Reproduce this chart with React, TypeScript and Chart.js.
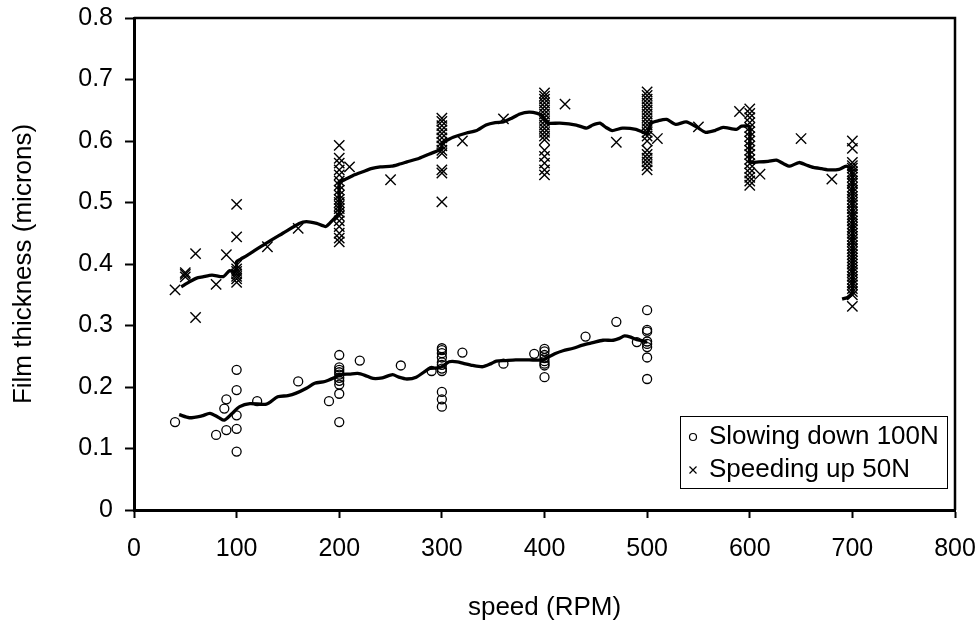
import React, { useEffect, useRef } from "react";
import { Chart, registerables } from "chart.js";

Chart.register(...registerables);

const FONT = "'Liberation Sans', Arial, Helvetica, sans-serif";

const xTickLabels = ["0", "100", "200", "300", "400", "500", "600", "700", "800"];
const yTickLabels = ["0", "0.1", "0.2", "0.3", "0.4", "0.5", "0.6", "0.7", "0.8"];

const seriesNames = ["Slowing down 100N", "Speeding up 50N"];

// Slowing down 100N (circles)
const slowX = [
  40, 80, 88, 90, 90,
  100, 100, 100, 100, 100,
  120, 160, 190,
  200, 200, 200, 200, 200, 200, 200, 200, 200, 200,
  220, 260, 290,
  300, 300, 300, 300, 300, 300, 300, 300, 300, 300, 300,
  320, 360, 390,
  400, 400, 400, 400, 400, 400, 400, 400,
  440, 470, 490,
  500, 500, 500, 500, 500, 500, 500, 500,
];
const slowY = [
  0.143, 0.122, 0.165, 0.18, 0.13,
  0.228, 0.195, 0.154, 0.132, 0.095,
  0.177, 0.209, 0.177,
  0.252, 0.232, 0.228, 0.224, 0.22, 0.215, 0.21, 0.204, 0.189, 0.143,
  0.243, 0.235, 0.226,
  0.263, 0.26, 0.255, 0.248, 0.24, 0.236, 0.23, 0.226, 0.192, 0.18, 0.168,
  0.256, 0.238, 0.254,
  0.262, 0.258, 0.252, 0.247, 0.242, 0.238, 0.235, 0.216,
  0.282, 0.306, 0.273,
  0.325, 0.293, 0.29, 0.274, 0.27, 0.265, 0.248, 0.213,
];

// Speeding up 50N (crosses)
const fastX = [
  40, 50, 50, 50, 60, 60, 80, 90,
  100, 100, 100, 100, 100, 100, 100, 100, 100,
  130, 160,
  200, 200, 200, 200, 200, 200, 200, 200, 200, 200, 200, 200, 200, 200, 200, 200, 200, 200, 200, 200,
  210, 250,
  300, 300, 300, 300, 300, 300, 300, 300, 300, 300, 300, 300, 300,
  320, 360,
  400, 400, 400, 400, 400, 400, 400, 400, 400, 400, 400, 400, 400, 400, 400, 400, 400, 400, 400,
  420, 470,
  500, 500, 500, 500, 500, 500, 500, 500, 500, 500, 500, 500, 500, 500, 500, 500, 500, 500, 500, 500,
  510, 550, 590,
  600, 600, 600, 600, 600, 600, 600, 600, 600, 600, 600, 600, 600, 600, 600, 600, 600, 600,
  610, 650, 680,
  700, 700, 700, 700, 700, 700, 700, 700, 700, 700, 700, 700, 700, 700, 700, 700,
  700, 700, 700, 700, 700, 700, 700, 700, 700, 700, 700, 700, 700, 700, 700, 700,
  700, 700, 700, 700, 700, 700, 700, 700, 700, 700, 700, 700, 700, 700, 700,
];
const fastY = [
  0.358, 0.386, 0.383, 0.379, 0.417, 0.313, 0.367, 0.415,
  0.497, 0.444, 0.398, 0.392, 0.388, 0.384, 0.38, 0.376, 0.37,
  0.428, 0.458,
  0.593, 0.572, 0.564, 0.553, 0.545, 0.535, 0.528, 0.52, 0.512, 0.505, 0.5, 0.495, 0.49, 0.484, 0.478, 0.47, 0.461, 0.45, 0.442, 0.436,
  0.558, 0.537,
  0.637, 0.632, 0.625, 0.618, 0.612, 0.605, 0.598, 0.592, 0.585, 0.58, 0.553, 0.548, 0.501,
  0.6, 0.636,
  0.678, 0.673, 0.668, 0.662, 0.656, 0.65, 0.644, 0.638, 0.632, 0.626, 0.62, 0.614, 0.608, 0.602, 0.585, 0.575, 0.564, 0.553, 0.545,
  0.66, 0.598,
  0.68, 0.674, 0.668, 0.662, 0.656, 0.65, 0.644, 0.638, 0.632, 0.626, 0.62, 0.614, 0.608, 0.6, 0.585, 0.578, 0.572, 0.566, 0.56, 0.553,
  0.604, 0.623, 0.648,
  0.652, 0.645, 0.638, 0.63, 0.622, 0.615, 0.607, 0.6, 0.592, 0.585, 0.578, 0.57, 0.563, 0.555, 0.548, 0.541, 0.535, 0.528,
  0.546, 0.604, 0.538,
  0.6, 0.588, 0.565, 0.56, 0.556, 0.55, 0.546, 0.541, 0.535, 0.531, 0.525, 0.52, 0.516, 0.51, 0.505, 0.5,
  0.496, 0.49, 0.485, 0.48, 0.476, 0.47, 0.465, 0.46, 0.456, 0.45, 0.445, 0.44, 0.436, 0.43, 0.425, 0.42,
  0.415, 0.41, 0.405, 0.4, 0.395, 0.39, 0.386, 0.38, 0.375, 0.37, 0.366, 0.36, 0.355, 0.35, 0.331,
];

// Moving-average trend line, slowing down 100N
const slowTrendX = [
  44, 54, 66, 74, 82, 88, 95, 103, 113, 129, 140, 150, 158, 168, 176, 186, 195, 201, 210, 218,
  225, 233, 242, 252, 258, 266, 275, 288, 296, 301, 307, 315, 321, 330, 340, 348, 353, 362, 372, 385,
  398, 402, 410, 418, 428, 437, 447, 457, 467, 473, 478, 484, 490, 496, 500,
];
const slowTrendY = [
  0.155, 0.15, 0.153, 0.157, 0.151, 0.146, 0.156, 0.168, 0.173, 0.172, 0.184, 0.186, 0.19, 0.198, 0.206, 0.209, 0.215, 0.22, 0.221, 0.222,
  0.219, 0.214, 0.215, 0.22, 0.216, 0.213, 0.216, 0.23, 0.231, 0.234, 0.241, 0.241, 0.2385, 0.235, 0.233, 0.238, 0.242, 0.243, 0.244, 0.244,
  0.244, 0.247, 0.254, 0.259, 0.263, 0.268, 0.272, 0.276, 0.276, 0.279, 0.283, 0.281, 0.277, 0.275, 0.273,
];

// Moving-average trend line, speeding up 50N
const fastTrendX = [
  46, 54, 61, 67, 76, 87, 93, 98, 100, 100, 104, 113, 129, 145, 161, 168, 178, 187, 194, 197,
  200, 200, 204, 215, 223, 231, 240, 251, 258, 266, 278, 288, 296, 300, 300, 306, 311, 324, 334, 343,
  352, 360, 368, 376, 385, 393, 398, 400, 403, 415, 431, 441, 447, 454, 460, 466, 476, 489, 497, 500,
  504, 511, 519, 528, 538, 548, 557, 566, 574, 587, 592, 600, 600, 609, 618, 626, 633, 639, 648, 655,
  662, 670, 678, 687, 694, 699, 700, 700, 696, 690,
];
const fastTrendY = [
  0.363, 0.371, 0.377, 0.379, 0.382, 0.3795, 0.389, 0.387, 0.39, 0.404, 0.408, 0.417, 0.434, 0.45, 0.466, 0.469, 0.466, 0.461, 0.472, 0.477,
  0.483, 0.534, 0.536, 0.545, 0.55, 0.555, 0.558, 0.559, 0.562, 0.566, 0.572, 0.579, 0.584, 0.589, 0.597, 0.602, 0.606, 0.613, 0.617, 0.626,
  0.63, 0.631, 0.637, 0.644, 0.647, 0.645, 0.641, 0.635, 0.629, 0.629, 0.626, 0.621, 0.626, 0.629, 0.622, 0.617, 0.621, 0.619, 0.6135, 0.612,
  0.629, 0.633, 0.635, 0.627, 0.631, 0.623, 0.614, 0.617, 0.622, 0.619, 0.624, 0.623, 0.566, 0.566, 0.567, 0.569, 0.563, 0.559, 0.565, 0.561,
  0.557, 0.555, 0.553, 0.554, 0.559, 0.553, 0.54, 0.352, 0.346, 0.343,
];

const toPoints = (xs: number[], ys: number[]) => xs.map((x, i) => ({ x, y: ys[i] }));

const framePlugin = {
  id: "frameBox",
  afterDraw(chart: any) {
    const { ctx, chartArea } = chart;
    ctx.save();
    ctx.strokeStyle = "#000";
    ctx.lineWidth = 2.5;
    ctx.beginPath();
    ctx.moveTo(chartArea.left, chartArea.top);
    ctx.lineTo(chartArea.right, chartArea.top);
    ctx.lineTo(chartArea.right, chartArea.bottom);
    ctx.stroke();
    ctx.restore();
  },
};

const legendPlugin = {
  id: "boxLegend",
  afterDatasetsDraw(chart: any) {
    const { ctx, chartArea } = chart;
    const w = 267;
    const h = 72;
    const left = chartArea.right - 275;
    const top = chartArea.bottom - 94;
    ctx.save();
    ctx.fillStyle = "#fff";
    ctx.fillRect(left, top, w, h);
    ctx.strokeStyle = "#000";
    ctx.lineWidth = 1;
    ctx.strokeRect(left + 0.5, top + 0.5, w, h);
    const symX = left + 13;
    const textX = left + 29;
    const rows = [top + 21, top + 54];
    ctx.lineWidth = 1.2;
    ctx.beginPath();
    ctx.arc(symX, rows[0], 3.5, 0, Math.PI * 2);
    ctx.stroke();
    ctx.beginPath();
    ctx.moveTo(symX - 3.5, rows[1] - 3.5);
    ctx.lineTo(symX + 3.5, rows[1] + 3.5);
    ctx.moveTo(symX + 3.5, rows[1] - 3.5);
    ctx.lineTo(symX - 3.5, rows[1] + 3.5);
    ctx.stroke();
    ctx.fillStyle = "#000";
    ctx.font = `26px ${FONT}`;
    ctx.textBaseline = "middle";
    ctx.textAlign = "left";
    ctx.fillText(chart.data.datasets[0].label, textX, rows[0]);
    ctx.fillText(chart.data.datasets[1].label, textX, rows[1]);
    ctx.restore();
  },
};

export default function App() {
  const canvasRef = useRef<HTMLCanvasElement | null>(null);

  useEffect(() => {
    const canvas = canvasRef.current;
    if (!canvas) return;
    const chart = new Chart(canvas, {
      type: "scatter",
      data: {
        datasets: [
          {
            label: seriesNames[0],
            data: toPoints(slowX, slowY),
            pointStyle: "circle",
            pointRadius: 4.5,
            pointBorderWidth: 1.3,
            borderColor: "#000",
            backgroundColor: "rgba(0,0,0,0)",
            showLine: false,
          },
          {
            label: seriesNames[1],
            data: toPoints(fastX, fastY),
            pointStyle: "crossRot",
            pointRadius: 7.3,
            pointBorderWidth: 1.4,
            borderColor: "#000",
            backgroundColor: "rgba(0,0,0,0)",
            showLine: false,
          },
          {
            label: "trend slow",
            data: toPoints(slowTrendX, slowTrendY),
            showLine: true,
            pointRadius: 0,
            borderColor: "#000",
            borderWidth: 3.3,
            tension: 0.25,
            fill: false,
          },
          {
            label: "trend fast",
            data: toPoints(fastTrendX, fastTrendY),
            showLine: true,
            pointRadius: 0,
            borderColor: "#000",
            borderWidth: 3.3,
            tension: 0.2,
            fill: false,
          },
        ],
      },
      options: {
        animation: false,
        responsive: false,
        devicePixelRatio: 1,
        layout: { padding: { top: 18, right: 24, left: 0, bottom: 0 } },
        plugins: {
          legend: { display: false },
          tooltip: { enabled: false },
        },
        scales: {
          x: {
            type: "linear",
            min: 0,
            max: 800,
            afterFit: (s: any) => {
              s.height = 116;
              s.paddingLeft = 0;
              s.paddingRight = 0;
            },
            afterBuildTicks: (s: any) => {
              s.ticks = xTickLabels.map((t) => ({ value: Number(t) }));
            },
            ticks: {
              color: "#000",
              font: { family: FONT, size: 25 },
              padding: 16,
              maxRotation: 0,
              autoSkip: false,
              callback: (_v: any, i: number) => xTickLabels[i],
            },
            grid: {
              drawOnChartArea: false,
              drawTicks: true,
              tickLength: 8,
              tickWidth: 2,
              tickColor: "#000",
              color: "#000",
            },
            border: { display: true, color: "#000", width: 3 },
            title: {
              display: true,
              text: "speed (RPM)",
              color: "#000",
              font: { family: FONT, size: 26 },
              padding: { top: 0, bottom: 3 },
            },
          },
          y: {
            type: "linear",
            min: 0,
            max: 0.8,
            afterFit: (s: any) => {
              s.width = 134;
              s.paddingTop = 0;
              s.paddingBottom = 0;
            },
            afterBuildTicks: (s: any) => {
              s.ticks = yTickLabels.map((t) => ({ value: Number(t) }));
            },
            ticks: {
              color: "#000",
              font: { family: FONT, size: 25 },
              padding: 12,
              autoSkip: false,
              callback: (_v: any, i: number) => yTickLabels[i],
            },
            grid: {
              drawOnChartArea: false,
              drawTicks: true,
              tickLength: 9,
              tickWidth: 2,
              tickColor: "#000",
              color: "#000",
            },
            border: { display: true, color: "#000", width: 3 },
            title: {
              display: true,
              text: "Film thickness (microns)",
              color: "#000",
              font: { family: FONT, size: 26 },
              padding: { top: 8, bottom: 0 },
            },
          },
        },
      },
      plugins: [framePlugin, legendPlugin],
    } as any);
    return () => chart.destroy();
  }, []);

  return (
    <div
      style={{
        position: "absolute",
        left: 0,
        top: 0,
        width: 979,
        height: 626,
        background: "#fff",
      }}
    >
      <canvas ref={canvasRef} width={979} height={626} style={{ display: "block" }} />
    </div>
  );
}
